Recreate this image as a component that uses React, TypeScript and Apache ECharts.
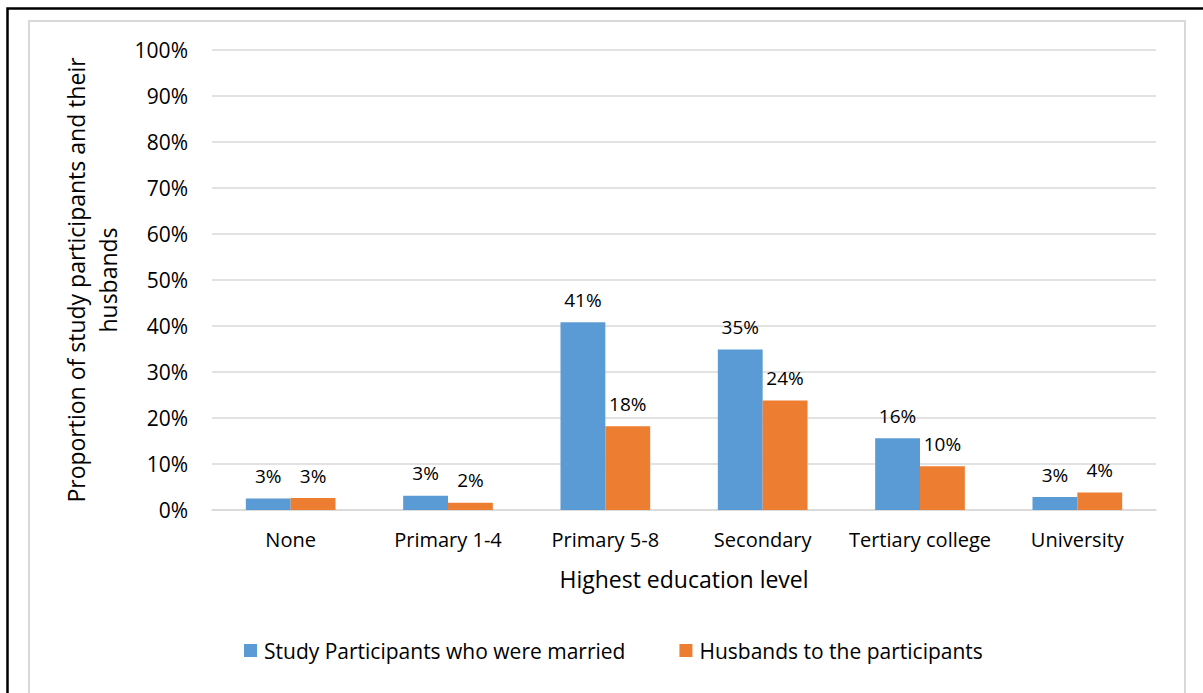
import React, { useEffect, useRef } from "react";
import * as echarts from "echarts";

// Education levels on the x axis
const categories = [
  "None",
  "Primary 1-4",
  "Primary 5-8",
  "Secondary",
  "Tertiary college",
  "University",
];

// Share of each group (percent)
const participants = [2.5, 3.1, 40.8, 34.9, 15.6, 2.8];
const husbands = [2.6, 1.6, 18.2, 23.8, 9.5, 3.8];

const seriesNames = [
  "Study Participants who were married",
  "Husbands to the participants",
];

const yTicks = [0, 10, 20, 30, 40, 50, 60, 70, 80, 90, 100];

const FONT = "'Open Sans', 'Noto Sans', sans-serif";
const TEXT = "#000000";
const GRID = "#D9D9D9";
const BLUE = "#5B9BD5";
const ORANGE = "#ED7D31";

export default function App() {
  const ref = useRef<HTMLDivElement>(null);

  useEffect(() => {
    if (!ref.current) return;
    const chart = echarts.init(ref.current, null, { renderer: "svg" });

    const label = {
      show: true,
      position: "top" as const,
      distance: 13,
      fontFamily: FONT,
      fontSize: 19,
      color: TEXT,
      formatter: (p: any) => `${Math.round(p.value)}%`,
    };

    chart.setOption({
      animation: false,
      backgroundColor: "#ffffff",
      textStyle: { fontFamily: FONT },
      grid: { left: 212, right: 47, top: 50, bottom: 183, containLabel: false },
      legend: {
        data: seriesNames,
        bottom: 27,
        left: 239,
        itemWidth: 13,
        itemHeight: 13,
        itemGap: 54,
        icon: "rect",
        textStyle: { fontFamily: FONT, fontSize: 21, color: TEXT, padding: [0, 0, 0, 2] },
      },
      xAxis: {
        type: "category",
        data: categories,
        name: "Highest education level",
        nameLocation: "middle",
        nameGap: 57,
        nameTextStyle: { fontFamily: FONT, fontSize: 23, color: TEXT },
        axisLine: { show: true, lineStyle: { color: GRID, width: 1.5 } },
        axisTick: { show: false },
        axisLabel: { fontFamily: FONT, fontSize: 20, color: TEXT, margin: 19, interval: 0 },
      },
      yAxis: {
        type: "value",
        min: yTicks[0],
        max: yTicks[yTicks.length - 1],
        interval: 10,
        name: "Proportion of study participants and their\nhusbands",
        nameLocation: "middle",
        nameGap: 82,
        nameTextStyle: { fontFamily: FONT, fontSize: 23, color: TEXT, lineHeight: 32, align: "center" },
        axisLine: { show: false },
        axisTick: { show: false },
        axisLabel: {
          fontFamily: FONT,
          fontSize: 21,
          color: TEXT,
          margin: 24,
          formatter: (v: number) => `${v}%`,
        },
        splitLine: { lineStyle: { color: GRID, width: 1.5 } },
      },
      series: [
        {
          name: seriesNames[0],
          type: "bar",
          data: participants,
          itemStyle: { color: BLUE },
          barGap: "0%",
          barCategoryGap: "43%",
          label,
        },
        {
          name: seriesNames[1],
          type: "bar",
          data: husbands,
          itemStyle: { color: ORANGE },
          label,
        },
      ],
      graphic: [
        {
          type: "polyline",
          silent: true,
          shape: { points: [[29, 693], [29, 21], [1185, 21], [1185, 693]] },
          style: { stroke: GRID, lineWidth: 2, fill: null },
        },
        {
          type: "polyline",
          silent: true,
          shape: { points: [[7.5, 693], [7.5, 8.5], [1203, 8.5]] },
          style: { stroke: "#000000", lineWidth: 2.5, fill: null },
        },
      ],
    });

    return () => chart.dispose();
  }, []);

  return (
    <div
      ref={ref}
      style={{ position: "absolute", left: 0, top: 0, width: 1203, height: 693 }}
    />
  );
}
